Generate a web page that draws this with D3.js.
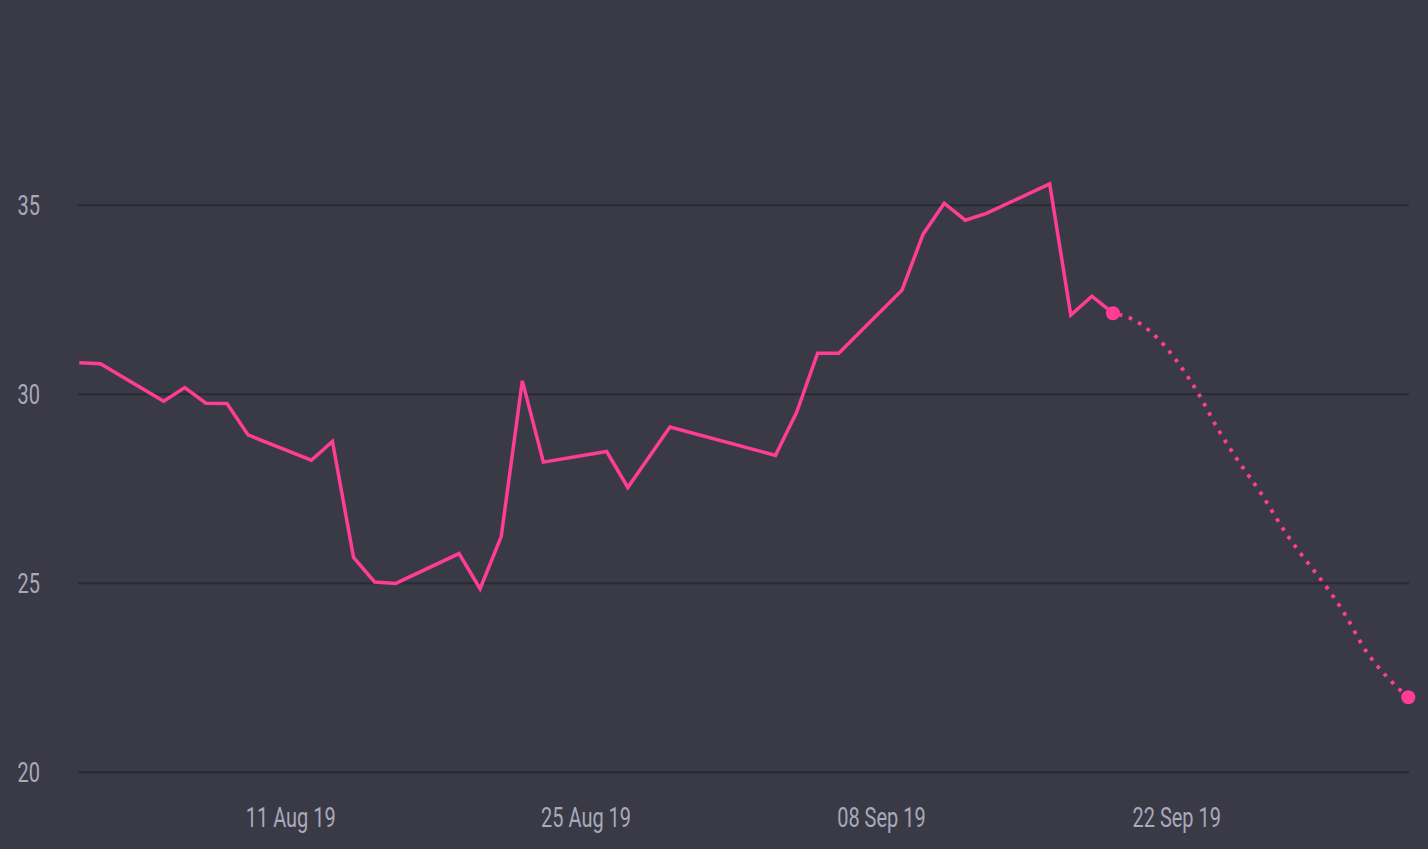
<!DOCTYPE html>
<html>
<head>
<meta charset="utf-8">
<script src="https://cdn.jsdelivr.net/npm/d3@7"></script>
<style>
  html, body { margin: 0; padding: 0; background: #3a3a47; }
  svg { display: block; }
  .tick-label { font-family: Roboto, "Noto Sans", sans-serif; font-size: 27px; fill: #a9a9ba; }
</style>
</head>
<body>
<svg id="chart"></svg>
<script>
  var width = 1428, height = 849;
  var squeeze = 0.74; // the original face is condensed, so squeeze Roboto horizontally

  // observed closing values (business days)
  var histDates = ["2019-08-01", "2019-08-02", "2019-08-05", "2019-08-06", "2019-08-07", "2019-08-08",
    "2019-08-09", "2019-08-12", "2019-08-13", "2019-08-14", "2019-08-15", "2019-08-16",
    "2019-08-19", "2019-08-20", "2019-08-21", "2019-08-22", "2019-08-23", "2019-08-26",
    "2019-08-27", "2019-08-29", "2019-09-03", "2019-09-04", "2019-09-05", "2019-09-06",
    "2019-09-09", "2019-09-10", "2019-09-11", "2019-09-12", "2019-09-13", "2019-09-16",
    "2019-09-17", "2019-09-18", "2019-09-19"];
  var histValues = [30.82, 30.79, 29.80, 30.16, 29.75, 29.74,
    28.91, 28.24, 28.74, 25.67, 25.02, 24.98,
    25.77, 24.84, 26.22, 30.34, 28.19, 28.47,
    27.52, 29.12, 28.37, 29.50, 31.07, 31.07,
    32.74, 34.22, 35.04, 34.59, 34.77, 35.55,
    32.08, 32.58, 32.13];

  // projected values
  var foreDates = ["2019-09-19", "2019-09-20", "2019-09-23", "2019-09-24", "2019-09-25", "2019-09-26",
    "2019-09-27", "2019-09-30", "2019-10-01", "2019-10-02", "2019-10-03"];
  var foreValues = [32.13, 31.95, 30.05, 29.04, 28.17, 27.38, 26.48, 24.16, 23.19, 22.50, 21.97];

  var yTicks = [20, 25, 30, 35];
  var xTicks = ["2019-08-11", "2019-08-25", "2019-09-08", "2019-09-22"];

  var parse = d3.timeParse("%Y-%m-%d");
  var fmt = d3.timeFormat("%d %b %y");

  var hist = histDates.map(function(d, i) { return { date: parse(d), value: histValues[i] }; });
  var fore = foreDates.map(function(d, i) { return { date: parse(d), value: foreValues[i] }; });

  var x = d3.scaleTime()
    .domain([parse("2019-08-01"), parse("2019-10-03")])
    .range([79.3, 1408.3]);
  var y = d3.scaleLinear()
    .domain([20, 35])
    .range([771.7, 204.7]);

  var svg = d3.select("#chart")
    .attr("width", width)
    .attr("height", height);

  svg.append("rect")
    .attr("width", width)
    .attr("height", height)
    .attr("fill", "#3a3a47");

  // horizontal grid + y labels
  var yAxis = d3.axisLeft(y).tickValues(yTicks).tickSize(-(1409 - 78)).tickPadding(0);
  var gy = svg.append("g")
    .attr("transform", "translate(78,0)")
    .call(yAxis);
  gy.select(".domain").remove();
  gy.selectAll(".tick line")
    .attr("stroke", "#2a2a33")
    .attr("stroke-width", 2);
  gy.selectAll(".tick text")
    .attr("class", "tick-label")
    .attr("text-anchor", "end")
    .attr("x", -38 / squeeze)
    .attr("dy", "0.35em")
    .attr("transform", "scale(" + squeeze + ",1)");

  // x labels
  var xAxis = d3.axisBottom(x)
    .tickValues(xTicks.map(parse))
    .tickFormat(fmt)
    .tickSize(0)
    .tickPadding(0);
  var gx = svg.append("g")
    .attr("transform", "translate(0,818)")
    .call(xAxis);
  gx.select(".domain").remove();
  gx.selectAll(".tick text")
    .attr("class", "tick-label")
    .attr("dy", "0.35em")
    .attr("transform", "scale(" + squeeze + ",1)");

  var line = d3.line()
    .x(function(d) { return x(d.date); })
    .y(function(d) { return y(d.value); });

  svg.append("path")
    .datum(hist)
    .attr("fill", "none")
    .attr("stroke", "#ff3d94")
    .attr("stroke-width", 3.5)
    .attr("stroke-linejoin", "miter")
    .attr("d", line);

  svg.append("path")
    .datum(fore)
    .attr("fill", "none")
    .attr("stroke", "#ff3d94")
    .attr("stroke-width", 3.8)
    .attr("stroke-dasharray", "3.6,6.9")
    .attr("stroke-dashoffset", -6)
    .attr("d", line.curve(d3.curveMonotoneX));

  // end markers
  svg.selectAll("circle.marker")
    .data([fore[0], fore[fore.length - 1]])
    .enter().append("circle")
    .attr("class", "marker")
    .attr("cx", function(d) { return x(d.date); })
    .attr("cy", function(d) { return y(d.value); })
    .attr("r", 7)
    .attr("fill", "#ff3d94");
</script>
</body>
</html>
